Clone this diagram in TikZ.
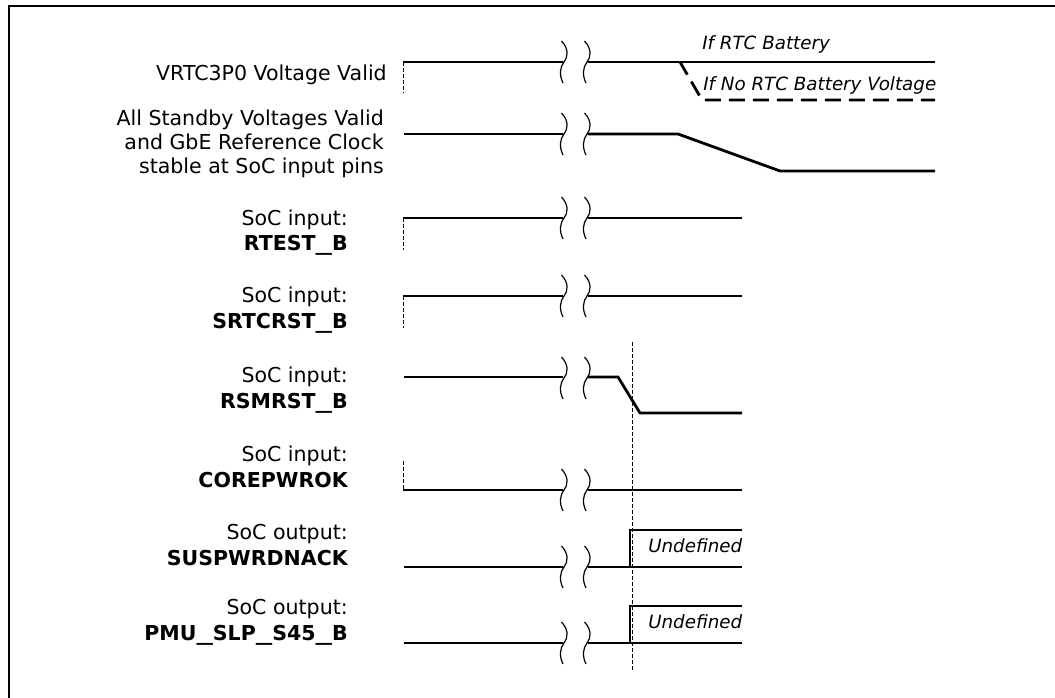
\documentclass[tikz,border=0pt]{standalone}
\usepackage{fontspec}
\setmainfont{DejaVu Sans}
\newcommand\wideus{\makebox[0.8em][l]{\scalebox{1.6}[1]{\_}}}
\begin{document}
\begin{tikzpicture}[x=0.75pt,y=-0.75pt,
  sig/.style={line width=2.1pt},
  brk/.style={line width=0.9pt},
  vdash/.style={line width=0.75pt, dash pattern=on 3pt off 1.5pt},
  lbl/.style={anchor=mid east, inner sep=0pt, font=\fontsize{15.4pt}{18pt}\selectfont},
  blbl/.style={anchor=mid east, inner sep=0pt, font=\fontsize{15.4pt}{18pt}\selectfont\bfseries},
  itl/.style={anchor=mid west, inner sep=0pt, font=\fontsize{13.7pt}{16pt}\selectfont\itshape},
  brkpic/.pic={\draw[brk] (-2.5,-21) .. controls (5,-13) and (4,-5) .. (0,0) .. controls (-4,5) and (-5,13) .. (-1,21);}]
\useasboundingbox (0,0) rectangle (1055,698);
\clip (0,0) rectangle (1055,698);
\draw[line width=1.9pt] (9,720) -- (9,6) -- (1070,6);
% break marks
\foreach \yy in {62,134,218,296,378,490,567,643} {
  \pic at (564,\yy) {brkpic};
  \pic at (587,\yy) {brkpic};
}
% row 1
\node[lbl] (l1) at (387,77) {VRTC3P0 Voltage Valid};
\draw[vdash] (403,62) -- (403,93);
\draw[sig] (403,62) -- (563,62);
\draw[sig] (588,62) -- (935,62);
\draw[sig, dash pattern=on 12pt off 6pt, dash phase=1pt] (680,62) -- (702,100) -- (935,100);
\node[itl] (t1) at (702,46) {If RTC Battery};
\node[itl] (t2) at (703,87) {If No RTC Battery Voltage};
% row 2
\node[lbl] (l2a) at (384,122) {All Standby Voltages Valid};
\node[lbl] (l2b) at (384,146) {and GbE Reference Clock};
\node[lbl] (l2c) at (384,170) {stable at SoC input pins};
\draw[sig] (404,134) -- (563,134);
\draw[sig] (588,134) -- (678,134) -- (780,171) -- (935,171);
% row 3
\node[lbl] (l3a) at (348,222) {SoC input:};
\node[blbl] (l3b) at (348,247) {RTEST\wideus B};
\draw[vdash] (403,218) -- (403,250);
\draw[sig] (403,218) -- (563,218);
\draw[sig] (588,218) -- (742,218);
% row 4
\node[lbl] (l4a) at (348,299) {SoC input:};
\node[blbl] (l4b) at (348,325) {SRTCRST\wideus B};
\draw[vdash] (403,296) -- (403,328);
\draw[sig] (403,296) -- (563,296);
\draw[sig] (588,296) -- (742,296);
% row 5
\node[lbl] (l5a) at (348,379) {SoC input:};
\node[blbl] (l5b) at (348,405) {RSMRST\wideus B};
\draw[sig] (404,377) -- (563,377);
\draw[sig] (588,377) -- (618,377) -- (640,413) -- (742,413);
% row 6
\node[lbl] (l6a) at (348,458) {SoC input:};
\node[blbl] (l6b) at (348,484) {COREPWROK};
\draw[vdash] (403,461) -- (403,490);
\draw[sig] (403,490) -- (563,490);
\draw[sig] (588,490) -- (742,490);
% row 7
\node[lbl] (l7a) at (348,536) {SoC output:};
\node[blbl] (l7b) at (348,562) {SUSPWRDNACK};
\draw[sig] (404,567) -- (563,567);
\draw[sig] (588,567) -- (742,567);
\draw[sig] (630,567) -- (630,530) -- (742,530);
\node[itl] (u1) at (648,549) {Undefined};
% row 8
\node[lbl] (l8a) at (348,611) {SoC output:};
\node[blbl] (l8b) at (348,637) {PMU\wideus SLP\wideus S45\wideus B};
\draw[sig] (404,643) -- (563,643);
\draw[sig] (588,643) -- (742,643);
\draw[sig] (630,643) -- (630,606) -- (742,606);
\node[itl] (u2) at (648,625) {Undefined};
% marker line
\draw[vdash] (632,342) -- (632,672);
\end{tikzpicture}
\end{document}
